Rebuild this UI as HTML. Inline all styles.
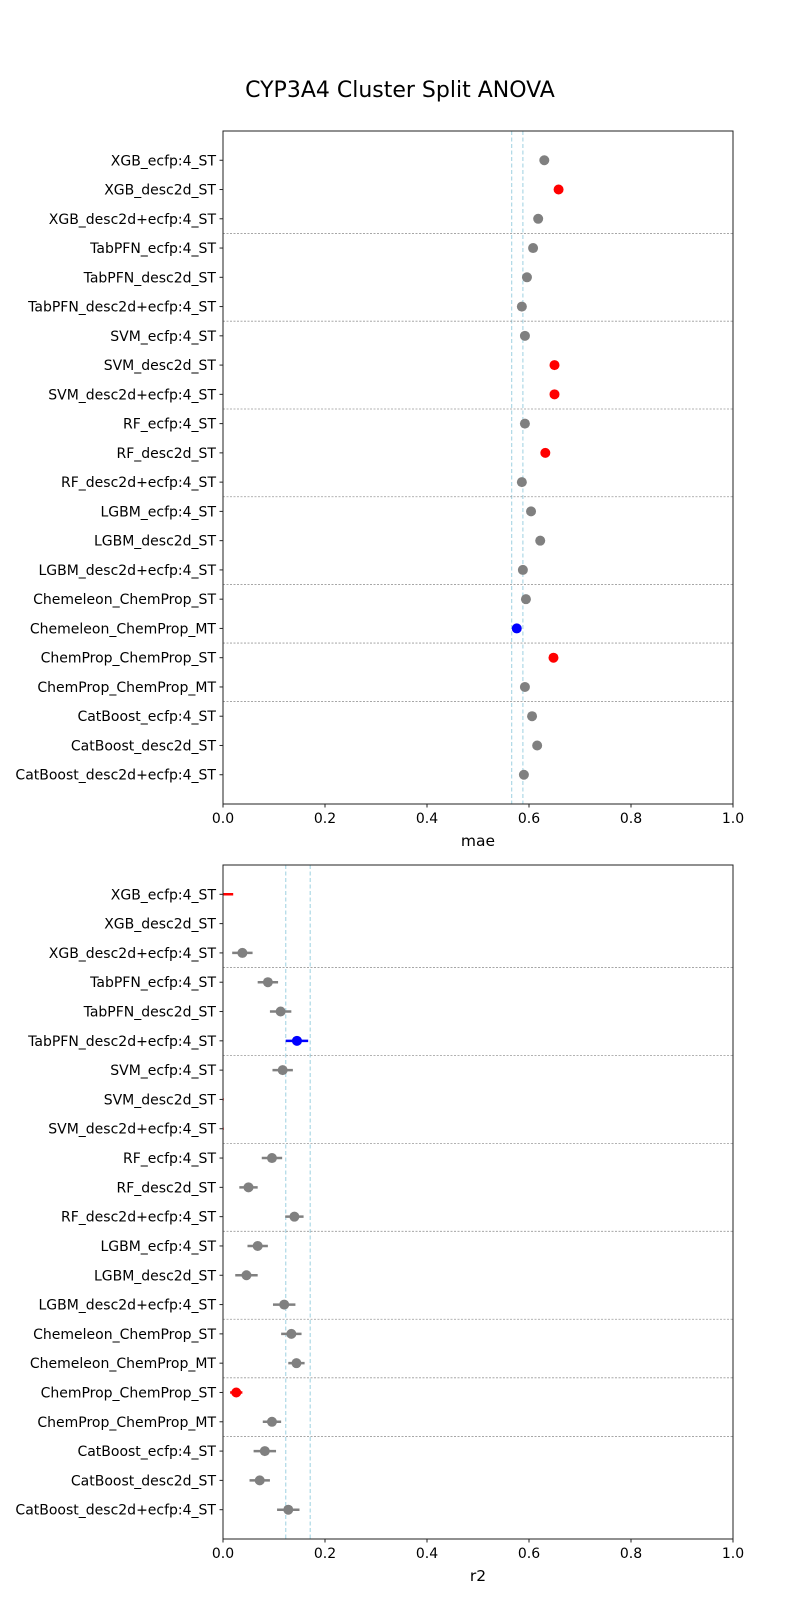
<!DOCTYPE html>
<html><head><meta charset="utf-8"><style>
html,body{margin:0;padding:0;background:#fff;}
svg{display:block;font-family:"DejaVu Sans","Liberation Sans",sans-serif;}
</style></head><body>
<svg id="main" width="800" height="1600" viewBox="0 0 800 1600" xmlns="http://www.w3.org/2000/svg">
<rect width="800" height="1600" fill="#fff"/>
<text x="400" y="97" font-size="22" text-anchor="middle" fill="#000">CYP3A4 Cluster Split ANOVA</text>
<g id="plots"></g>
</svg>
<script>
(function(){
var labels=["XGB_ecfp:4_ST","XGB_desc2d_ST","XGB_desc2d+ecfp:4_ST","TabPFN_ecfp:4_ST","TabPFN_desc2d_ST","TabPFN_desc2d+ecfp:4_ST","SVM_ecfp:4_ST","SVM_desc2d_ST","SVM_desc2d+ecfp:4_ST","RF_ecfp:4_ST","RF_desc2d_ST","RF_desc2d+ecfp:4_ST","LGBM_ecfp:4_ST","LGBM_desc2d_ST","LGBM_desc2d+ecfp:4_ST","Chemeleon_ChemProp_ST","Chemeleon_ChemProp_MT","ChemProp_ChemProp_ST","ChemProp_ChemProp_MT","CatBoost_ecfp:4_ST","CatBoost_desc2d_ST","CatBoost_desc2d+ecfp:4_ST"];
var G="#808080",R="#ff0000",B="#0000ff";
var tdata=[[.630,.006,G],[.658,.008,R],[.618,.006,G],[.608,.006,G],[.596,.006,G],[.586,.006,G],[.592,.006,G],[.650,.008,R],[.650,.008,R],[.592,.006,G],[.632,.007,R],[.586,.006,G],[.604,.006,G],[.622,.007,G],[.588,.006,G],[.594,.006,G],[.576,.005,B],[.648,.008,R],[.592,.006,G],[.606,.006,G],[.616,.007,G],[.590,.006,G]];
var bdata=[[-0.01,.03,R,1],null,[.038,.02,G],[.088,.02,G],[.113,.021,G],[.145,.022,B],[.117,.02,G],[-0.01,.0115,R,1],[-0.01,.0115,R,1],[.096,.02,G],[.05,.018,G],[.14,.018,G],[.068,.02,G],[.046,.022,G],[.12,.022,G],[.134,.02,G],[.144,.016,G],[.026,.012,R],[.096,.018,G],[.082,.022,G],[.072,.02,G],[.128,.022,G]];
var L=223,W=510,seps=[2,5,8,11,14,16,18];
function plot(y0,y1,data,vl,xl){
  var h=(y1-y0)/23;
  var X=function(v){return L+W*v;}, Y=function(i){return y0+h*(i+1);};
  var s='<defs><clipPath id="c'+y0+'"><rect x="'+L+'" y="'+y0+'" width="'+W+'" height="'+(y1-y0)+'"/></clipPath></defs>';
  s+='<g clip-path="url(#c'+y0+')">';
  vl.forEach(function(v){s+='<line x1="'+X(v)+'" x2="'+X(v)+'" y1="'+y0+'" y2="'+y1+'" stroke="#add8e6" stroke-width="1.2" stroke-dasharray="4,2.5"/>';});
  seps.forEach(function(i){var y=Y(i+0.5);s+='<line x1="'+L+'" x2="'+(L+W)+'" y1="'+y+'" y2="'+y+'" stroke="#999" stroke-width="0.8" stroke-dasharray="2,1.5"/>';});
  data.forEach(function(d,i){if(!d)return;var y=Y(i);
    s+='<line x1="'+X(d[0]-d[1])+'" x2="'+X(d[0]+d[1])+'" y1="'+y+'" y2="'+y+'" stroke="'+d[2]+'" stroke-width="2.5"/>';
    if(!d[3]) s+='<circle cx="'+X(d[0])+'" cy="'+y+'" r="5" fill="'+d[2]+'"/>';});
  s+='</g>';
  s+='<rect x="'+L+'" y="'+y0+'" width="'+W+'" height="'+(y1-y0)+'" fill="none" stroke="#222" stroke-width="1"/>';
  labels.forEach(function(t,i){var y=Y(i);s+='<line x1="'+(L-3.5)+'" x2="'+L+'" y1="'+y+'" y2="'+y+'" stroke="#222"/><text x="'+(L-7)+'" y="'+(y+5)+'" font-size="14" text-anchor="end">'+t+'</text>';});
  [0,.2,.4,.6,.8,1].forEach(function(v){s+='<line x1="'+X(v)+'" x2="'+X(v)+'" y1="'+y1+'" y2="'+(y1+3.5)+'" stroke="#222"/><text x="'+X(v)+'" y="'+(y1+19)+'" font-size="14" text-anchor="middle">'+v.toFixed(1)+'</text>';});
  s+='<text x="'+(L+W/2)+'" y="'+(y1+42)+'" font-size="15.5" text-anchor="middle">'+xl+'</text>';
  return s;
}
var svgStr='<svg xmlns="http://www.w3.org/2000/svg">'+plot(131,804,tdata,[.566,.588],"mae")+plot(865,1539,bdata,[.123,.171],"r2")+'</svg>';
var doc=new DOMParser().parseFromString(svgStr,"image/svg+xml");
var g=document.getElementById("plots");
var kids=doc.documentElement.childNodes;
for(var k=0;k<kids.length;k++){g.appendChild(document.importNode(kids[k],true));}
})();
</script>
</body></html>
